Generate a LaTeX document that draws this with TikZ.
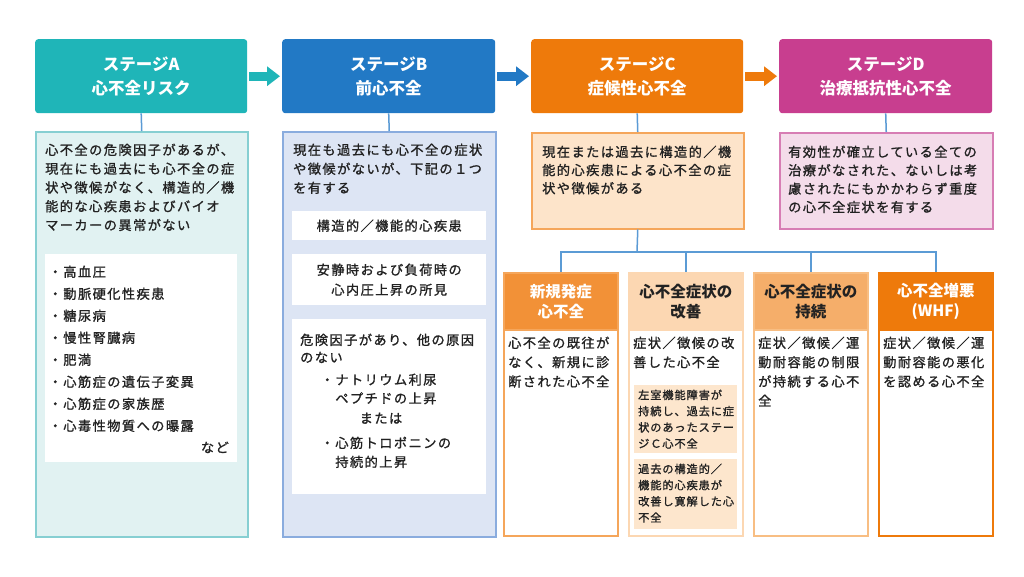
\documentclass[tikz,border=0pt]{standalone}
\usepackage{fontspec}
\setmainfont{Noto Sans CJK JP}
\newfontfamily\bodyjp[LetterSpace=11,FakeBold=1.2]{Noto Sans CJK JP}
\newfontfamily\subjp[LetterSpace=8,FakeBold=1.2]{Noto Sans CJK JP}
\usetikzlibrary{arrows.meta,positioning}

\definecolor{stageA}{HTML}{1FB5B8}
\definecolor{stageB}{HTML}{2279C5}
\definecolor{stageC}{HTML}{EE7A0B}
\definecolor{stageD}{HTML}{C83E8F}
\definecolor{bgA}{HTML}{E1F2F2}
\definecolor{lineA}{HTML}{86CFD2}
\definecolor{bgB}{HTML}{DDE5F4}
\definecolor{lineB}{HTML}{8AACDE}
\definecolor{bgC}{HTML}{FDE4CA}
\definecolor{lineC}{HTML}{F5A65B}
\definecolor{bgD}{HTML}{F4DCEA}
\definecolor{lineD}{HTML}{D77DB4}
\definecolor{linkblue}{HTML}{5B9BD5}
\definecolor{phaseA}{HTML}{F29137}
\definecolor{phaseB}{HTML}{FCD7B2}
\definecolor{phaseC}{HTML}{F5AE6A}
\definecolor{phaseCline}{HTML}{F8BE83}
\definecolor{subbg}{HTML}{FDE6CD}
\definecolor{ink}{HTML}{222222}

\begin{document}
\begin{tikzpicture}[x=1pt,y=-1pt]
		\tikzstyle{stagehead}=[rectangle,rounded corners=3pt,minimum width=212pt,minimum height=74pt,anchor=north west,inner sep=0pt,text=white,align=center,font=\bfseries\fontsize{16.5}{24}\selectfont]
		\tikzstyle{stagebody}=[rectangle,minimum width=212pt,anchor=north west,inner sep=0pt,line width=1.5pt]
		\tikzstyle{inner}=[rectangle,fill=white,minimum width=194pt,anchor=north west,inner sep=0pt,text=ink,align=center,font=\bodyjp\fontsize{13.2}{20}\selectfont]
		\tikzstyle{txt}=[anchor=north west,inner sep=0pt,align=left,text=ink,font=\bodyjp\fontsize{13.2}{18.8}\selectfont]
		\tikzstyle{subtxt}=[anchor=north west,inner sep=0pt,align=left,text=ink,font=\subjp\fontsize{11.2}{16.2}\selectfont]
		\tikzstyle{flow}=[line width=9pt,-{Triangle[length=13pt,width=19pt]},shorten <=2pt,shorten >=2pt]
		\tikzstyle{link}=[draw=linkblue,line width=1.5pt]
		\tikzstyle{phase}=[rectangle,fill=white,minimum width=114pt,minimum height=263pt,anchor=north west,inner sep=0pt,line width=1.5pt]
		\tikzstyle{phasehead}=[rectangle,minimum width=114pt,minimum height=57pt,anchor=north west,inner sep=0pt,line width=1.5pt,align=center,font=\bfseries\fontsize{15.5}{20}\selectfont]
		\tikzstyle{subbox}=[rectangle,fill=subbg,minimum width=103pt,anchor=north west,inner sep=0pt]

		\fill[white] (0,0) rectangle (1024,576);
		\useasboundingbox (0,0) rectangle (1024,576);

		% stage headers
		\node[stagehead,fill=stageA] (hA) at (35,39) {ステージA\\心不全リスク};
		\node[stagehead,fill=stageB,minimum width=213pt] (hB) at (282,39) {ステージB\\前心不全};
		\node[stagehead,fill=stageC] (hC) at (531,39) {ステージC\\症候性心不全};
		\node[stagehead,fill=stageD,minimum width=213pt] (hD) at (779,39) {ステージD\\治療抵抗性心不全};

		\draw [flow,stageA] (hA.east) -- (hB.west);
		\draw [flow,stageB] (hB.east) -- (hC.west);
		\draw [flow,stageC] (hC.east) -- (hD.west);

		% stage bodies
		\node[stagebody,fill=bgA,draw=lineA,minimum height=405pt] (bA) at (35,131) {};
		\node[stagebody,fill=bgB,draw=lineB,minimum height=405pt,minimum width=213pt] (bB) at (282,131) {};
		\node[stagebody,fill=bgC,draw=lineC,minimum height=96pt] (bC) at (531,132) {};
		\node[stagebody,fill=bgD,draw=lineD,minimum height=96pt,minimum width=213pt] (bD) at (779,132) {};

		\draw [link] (hA.south) -- (bA.north);
		\draw [link] (hB.south) -- (bB.north);
		\draw [link] (hC.south) -- (bC.north);
		\draw [link] (hD.south) -- (bD.north);

		% stage A
		\node[txt] (tA) at (45,143.5) {心不全の危険因子があるが、\\現在にも過去にも心不全の症\\状や徴候がなく、構造的／機\\能的な心疾患およびバイオ\\マーカーの異常がない};
		\node[inner,minimum width=192pt,minimum height=208pt] (wA) at (45,254) {};
		\node[txt,font=\bodyjp\fontsize{13.2}{22}\selectfont] (riskA) at (48.5,265.5) {・高血圧\\・動脈硬化性疾患\\・糖尿病\\・慢性腎臓病\\・肥満\\・心筋症の遺伝子変異\\・心筋症の家族歴\\・心毒性物質への曝露};
		\node[txt,anchor=north east] (etcA) at (229,441.5) {など};

		% stage B
		\node[txt,font=\bodyjp\fontsize{13.2}{19}\selectfont] (tB) at (293,143.5) {現在も過去にも心不全の症状\\や徴候がないが、下記の１つ\\を有する};
		\node[inner,minimum height=29pt] (wB1) at (292,211) {構造的／機能的心疾患};
		\node[inner,minimum height=51pt] (wB2) at (292,254) {安静時および負荷時の\\心内圧上昇の所見};
		\node[inner,minimum height=175pt] (wB3) at (292,319) {};
		\node[txt,font=\bodyjp\fontsize{13.2}{17.5}\selectfont] (riskB) at (300,333.5) {危険因子があり、他の原因\\のない};
		\node[txt,font=\bodyjp\fontsize{13.2}{18.5}\selectfont] (npB) at (320.5,373.5) {・ナトリウム利尿\\　ペプチドの上昇};
		\node[txt,anchor=north] (orB) at (381,412.5) {または};
		\node[txt,font=\bodyjp\fontsize{13.2}{19}\selectfont] (tnB) at (320.5,436.5) {・心筋トロポニンの\\　持続的上昇};

		% stage C, D
		\node[txt,font=\bodyjp\fontsize{13.2}{18.2}\selectfont] (tC) at (542,145.5) {現在または過去に構造的／機\\能的心疾患による心不全の症\\状や徴候がある};
		\node[txt,font=\bodyjp\fontsize{13.2}{18.4}\selectfont] (tD) at (788,145.5) {有効性が確立している全ての\\治療がなされた、ないしは考\\慮されたにもかかわらず重度\\の心不全症状を有する};

		% phases of stage C
		\node[phase,draw=lineC] (L1) at (503,272) {};
		\node[phase,draw=phaseB] (L2) at (628,272) {};
		\node[phase,draw=phaseCline] (L3) at (753,272) {};
		\node[phase,draw=stageC] (L4) at (878,272) {};
		\node[phasehead,fill=phaseA,draw=lineC,text=white] (pA) at (503,272) {新規発症\\心不全};
		\node[phasehead,fill=phaseB,draw=phaseB,text=ink] (pB) at (628,272) {心不全症状の\\改善};
		\node[phasehead,fill=phaseC,draw=phaseCline,text=ink] (pC) at (753,272) {心不全症状の\\持続};
		\node[phasehead,fill=stageC,draw=stageC,text=white] (pD) at (878,272) {心不全増悪\\(WHF)};

		\coordinate (bus) at (637,252);
		\draw [link] (bC.south) -- (bus);
		\draw [link] (bus) -| (L1.north);
		\draw [link] (bus) -| (L2.north);
		\draw [link] (bus) -| (L3.north);
		\draw [link] (bus) -| (L4.north);

		\node[txt,font=\bodyjp\fontsize{13.2}{19.3}\selectfont] (tL1) at (508,336.5) {心不全の既往が\\なく、新規に診\\断された心不全};
		\node[txt,font=\bodyjp\fontsize{13.2}{19.3}\selectfont] (tL2) at (633,336.5) {症状／徴候の改\\善した心不全};
		\node[txt,font=\bodyjp\fontsize{13.2}{19.3}\selectfont] (tL3) at (758,336.5) {症状／徴候／運\\動耐容能の制限\\が持続する心不\\全};
		\node[txt,font=\bodyjp\fontsize{13.2}{19.3}\selectfont] (tL4) at (883,336.5) {症状／徴候／運\\動耐容能の悪化\\を認める心不全};

		\node[subbox,minimum height=68pt] (s1) at (634,385) {};
		\node[subbox,minimum height=70pt] (s2) at (634,459) {};
		\node[subtxt] (ts1) at (638,389.5) {左室機能障害が\\持続し、過去に症\\状のあったステー\\ジＣ心不全};
		\node[subtxt] (ts2) at (638,463.5) {過去の構造的／\\機能的心疾患が\\改善し寛解した心\\不全};
\end{tikzpicture}
\end{document}
